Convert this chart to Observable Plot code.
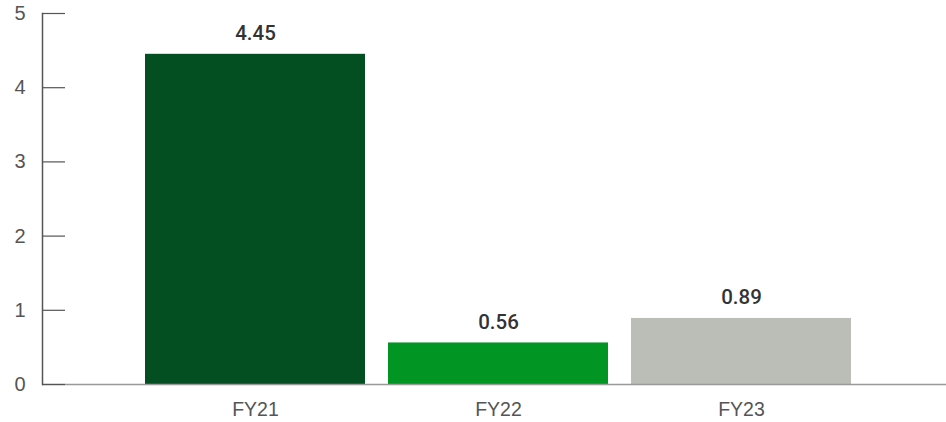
<!DOCTYPE html>
<html><head><meta charset="utf-8">
<script src="https://cdn.jsdelivr.net/npm/d3@7"></script>
<script src="https://cdn.jsdelivr.net/npm/@observablehq/plot@0.6"></script>
<style>body{margin:0;background:#fff;} svg{font-family:"Liberation Sans",Arial,sans-serif;}</style>
</head><body><div id="chart"></div>
<script>
const categories = ["FY21", "FY22", "FY23"];
const values = [4.45, 0.56, 0.89];
const labels = ["4.45", "0.56", "0.89"];
const colors = ["#044f21", "#019624", "#bbbdb7"];
const yTicks = [0, 1, 2, 3, 4, 5];

const data = categories.map((c, i) => ({cat: c, value: values[i], label: labels[i], color: colors[i]}));

const chart = Plot.plot({
  width: 946,
  height: 422,
  marginLeft: 42,
  marginRight: 0,
  marginTop: 13,
  marginBottom: 38,
  style: {fontSize: "16px", fontFamily: "Liberation Sans, Arial, sans-serif", color: "#555", background: "#fff"},
  x: {domain: categories, range: [144, 851], paddingInner: 0.0965, paddingOuter: 0, label: null},
  y: {domain: [0, 5], label: null},
  marks: [
    Plot.barY(data, {x: "cat", y: "value", fill: "color"}),
    Plot.ruleY([0], {stroke: "#999", strokeWidth: 1.5}),
    Plot.axisY(yTicks, {tickSize: -23, text: null, stroke: "#555", strokeOpacity: 1, strokeWidth: 1.2}),
    Plot.axisY(yTicks, {tickSize: 0, tickPadding: 17, tickFormat: d3.format("d"), fill: "#555", fontSize: 20}),
    Plot.frame({anchor: "left", stroke: "#555", strokeWidth: 1.5}),
    Plot.axisX({tickSize: 0, tickPadding: 18, fill: "#555", fontSize: 19.5}),
    Plot.text(data, {x: "cat", y: "value", text: "label", dy: -21, lineAnchor: "middle", fill: "#333", fontSize: 20.5, fontWeight: 500, fontFamily: "Roboto, sans-serif"})
  ]
});
document.getElementById("chart").appendChild(chart);
</script></body></html>
